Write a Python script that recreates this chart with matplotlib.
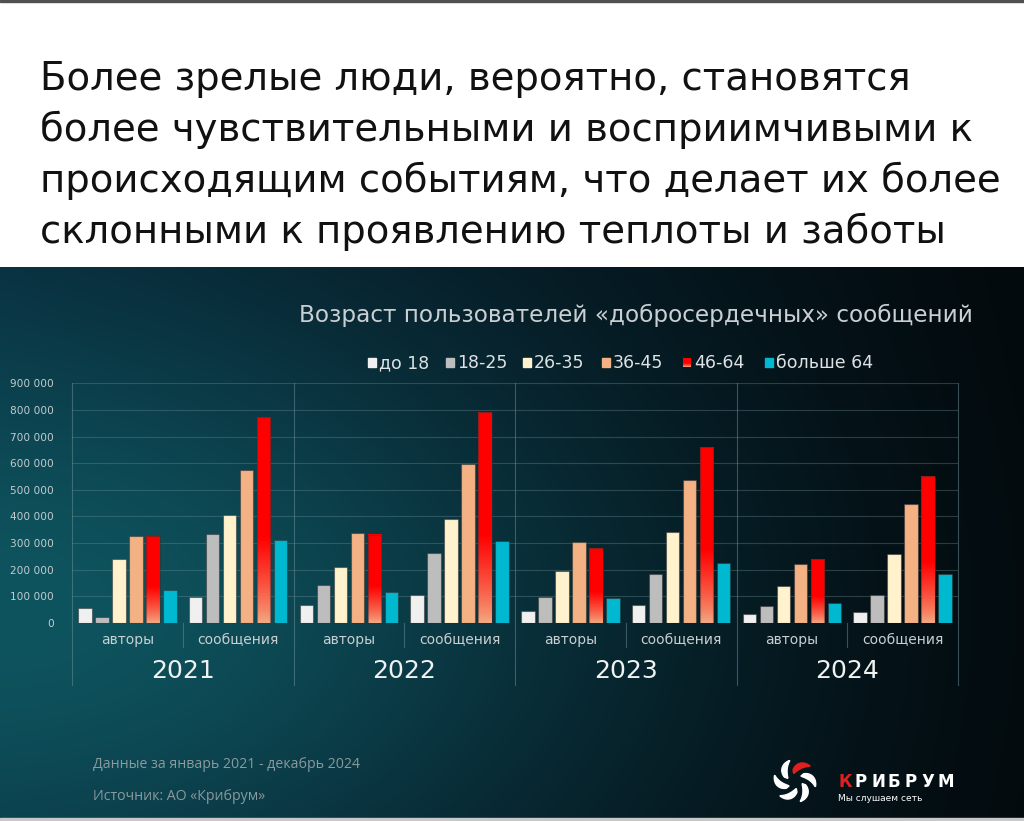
import numpy as np
import matplotlib
matplotlib.use("Agg")
import matplotlib.pyplot as plt
from matplotlib.transforms import blended_transform_factory
from matplotlib.patches import Polygon, Rectangle

title_lines = [
    "Более зрелые люди, вероятно, становятся",
    "более чувствительными и восприимчивыми к",
    "происходящим событиям, что делает их более",
    "склонными к проявлению теплоты и заботы",
]
chart_title = "Возраст пользователей «добросердечных» сообщений"

years = ["2021", "2022", "2023", "2024"]
kinds = ["авторы", "сообщения"]
ages = ["до 18", "18-25", "26-35", "36-45", "46-64", "больше 64"]

# order: 2021 авторы, 2021 сообщения, 2022 авторы, ...
age_under18 = [57000, 96000, 65000, 105000, 44000, 66000, 34000, 40000]
age_18_25 = [21000, 333000, 143000, 262000, 95000, 182000, 61000, 104000]
age_26_35 = [238000, 404000, 208000, 388000, 195000, 342000, 137000, 259000]
age_36_45 = [326000, 573000, 337000, 595000, 303000, 535000, 220000, 446000]
age_46_64 = [326000, 773000, 331000, 793000, 281000, 660000, 239000, 552000]
age_over64 = [124000, 311000, 117000, 309000, 91000, 226000, 75000, 184000]

yticks = list(range(0, 900001, 100000))

footer_1 = "Данные за январь 2021 - декабрь 2024"
footer_2 = "Источник: АО «Крибрум»"

colors = ["#f0f0f0", "#bdbdbd", "#fff2cc", "#f4b183", "#ff0000", "#00b8d0"]
peach = np.array([244, 172, 132]) / 255
red = np.array([255, 0, 0]) / 255

FONT = "DejaVu Sans"


def red_gradient(n=200):
    f = np.linspace(0, 1, n)
    t = np.clip(f / 0.42, 0, 1) ** 0.8
    rgb = peach[None, :] * (1 - t[:, None]) + red[None, :] * t[:, None]
    return rgb[:, None, :]


def panel_image(w=256, h=140):
    X, Y = np.meshgrid(np.linspace(0, 1, w), np.linspace(0, 1, h))
    navy = np.array([8, 38, 56]) / 255
    black = np.array([3, 9, 12]) / 255
    teal = np.array([14, 84, 94]) / 255
    s = np.clip(X, 0, 1) ** 0.9
    base = navy[None, None, :] * (1 - s[..., None]) + black[None, None, :] * s[..., None]
    T = np.exp(-((X / 0.55) ** 2 + ((Y - 0.62) / 0.55) ** 2))
    img = base * (1 - T[..., None]) + teal[None, None, :] * T[..., None]
    return np.clip(img, 0, 1)


def draw_logo(bg):
    cx, cy, R = 795, 781, 21
    for i in range(6):
        a0 = np.deg2rad(100 - i * 60)
        t = np.linspace(0, 1, 40)
        r = R * (0.45 + 0.55 * t)
        ang = a0 - np.deg2rad(55) * t
        w = R * 0.32 * np.sin(np.pi * (0.15 + 0.85 * t)) + 0.5
        outer = np.c_[cx + (r + w / 2) * np.cos(ang), cy - (r + w / 2) * np.sin(ang)]
        inner = np.c_[cx + (r - w / 2) * np.cos(ang), cy - (r - w / 2) * np.sin(ang)]
        pts = np.vstack([outer, inner[::-1]])
        col = "#e02020" if i == 0 else "white"
        bg.add_patch(Polygon(pts, closed=True, color=col, zorder=3))
    word = "КРИБРУМ"
    for j, ch in enumerate(word):
        bg.text(838 + j * 16.6, 787, ch, fontsize=12, fontweight="bold",
                color="#e02020" if j == 0 else "white", family=FONT, va="baseline", zorder=3)
    bg.text(838, 801, "Мы слушаем сеть", fontsize=6.5, color="white", family=FONT,
            va="baseline", zorder=3)


def main():
    fig = plt.figure(figsize=(10.24, 8.21), dpi=100)
    fig.patch.set_facecolor("white")

    bg = fig.add_axes([0, 0, 1, 1])
    bg.axis("off")
    bg.imshow(panel_image(), extent=[0, 1024, 821, 267], aspect="auto", zorder=0,
              interpolation="bicubic")
    bg.add_patch(Rectangle((0, 0), 1024, 2, color="#505050", zorder=1))
    bg.add_patch(Rectangle((0, 818), 1024, 3, color="#c8c8c8", zorder=1))
    bg.set_xlim(0, 1024)
    bg.set_ylim(821, 0)

    for i, line in enumerate(title_lines):
        bg.text(40, 90 + i * 51, line, fontsize=27.8, color="#111111", family=FONT,
                va="baseline")

    bg.text(973, 322, chart_title, fontsize=16.7, color="#c9cfd3", family=FONT,
            ha="right", va="baseline")

    # legend
    leg_x = [368, 446, 523, 602, 683, 765]
    for k, (lx, lab) in enumerate(zip(leg_x, ages)):
        if k == 4:
            bg.imshow(red_gradient(), extent=[lx, lx + 8, 367, 358], aspect="auto",
                      origin="lower", zorder=2)
        else:
            bg.add_patch(Rectangle((lx, 358), 8, 9, color=colors[k], zorder=2))
        bg.text(lx + 11, 368, lab, fontsize=12.5, color="#dde2e4", family=FONT, va="baseline")
    bg.set_xlim(0, 1024)
    bg.set_ylim(821, 0)

    bg.text(93, 768, footer_1, fontsize=10.2, color="#8a9a9e", family="Open Sans", va="baseline")
    bg.text(93, 800, footer_2, fontsize=10.2, color="#8a9a9e", family="Open Sans", va="baseline")
    draw_logo(bg)
    bg.set_xlim(0, 1024)
    bg.set_ylim(821, 0)

    # chart
    ax = fig.add_axes([72 / 1024, 1 - 622.7 / 821, 886 / 1024, 239.4 / 821])
    ax.set_facecolor("none")
    series = [age_under18, age_18_25, age_26_35, age_36_45, age_46_64, age_over64]
    n = len(years) * len(kinds)
    centers = np.arange(n) + 0.5
    step = 0.1535
    width = 0.124
    grad = red_gradient()
    for k, vals in enumerate(series):
        xs = centers + (k - 2.5) * step
        if k == 4:
            for x, v in zip(xs, vals):
                ax.imshow(grad, extent=[x - width / 2, x + width / 2, 0, v], aspect="auto",
                          origin="lower", zorder=3)
            ax.bar(xs, vals, width, fill=False, edgecolor=(0.2, 0.2, 0.2, 0.5),
                   linewidth=0.8, zorder=4)
        else:
            ax.bar(xs, vals, width, color=colors[k], edgecolor=(0.2, 0.2, 0.2, 0.5),
                   linewidth=0.8, zorder=3)

    ax.set_xlim(0, n)
    ax.set_ylim(0, 900000)
    ax.set_yticks(yticks)
    ax.set_yticklabels([f"{v:,}".replace(",", " ") for v in yticks], family=FONT)
    ax.set_xticks([])
    ax.tick_params(axis="y", length=0, pad=13, labelsize=7.6, labelcolor="#c3ccd0")
    ax.grid(axis="y", color="#6f9198", alpha=0.35, linewidth=0.8, zorder=0)
    for sp in ax.spines.values():
        sp.set_visible(False)

    trans = blended_transform_factory(ax.transData, ax.transAxes)
    for b in range(0, n + 1, 2):
        ax.plot([b, b], [1, -0.26], transform=trans, clip_on=False,
                color="#6f9198", alpha=0.5, linewidth=0.8)
    for b in range(1, n, 2):
        ax.plot([b, b], [0, -0.1], transform=trans, clip_on=False,
                color="#6f9198", alpha=0.5, linewidth=0.8)

    for i in range(n):
        ax.text(centers[i], -0.072, kinds[i % 2], transform=trans, ha="center",
                va="center", fontsize=10, color="#c8cfd2", family=FONT)
    for i, yr in enumerate(years):
        ax.text(2 * i + 1, -0.2, yr, transform=trans, ha="center", va="center",
                fontsize=18, color="#eef2f2", family=FONT)

    fig.savefig("out.png", dpi=100)


if __name__ == "__main__":
    main()
